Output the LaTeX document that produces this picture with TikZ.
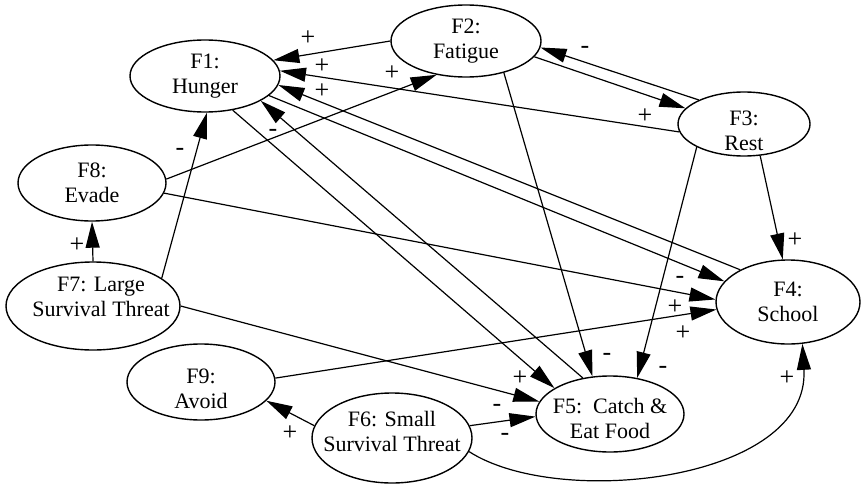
\documentclass[tikz,border=0pt]{standalone}
\usepackage{fontspec}
\setmainfont{Liberation Serif}
\usetikzlibrary{shapes.geometric,arrows.meta}
\begin{document}
\begin{tikzpicture}[x=1pt,y=-1pt,
  factor/.style 2 args={ellipse, draw, line width=1.4pt, inner sep=0pt,
    minimum width=#1pt, minimum height=#2pt},
  ftext/.style={align=center, inner sep=0pt, font=\fontsize{22}{25}\selectfont},
  link/.style={line width=1.2pt, -{Triangle[length=26pt,width=14pt]}},
  sign/.style={inner sep=0pt, font=\fontsize{26}{26}\selectfont}]
\useasboundingbox (0,0) rectangle (864,487);

% factors
\node[factor={150}{72}]  (F1) at (205,76)  {};
\node[factor={150}{72}]  (F2) at (466,41)  {};
\node[factor={132}{64}]  (F3) at (744,124) {};
\node[factor={144}{84}]  (F4) at (788,302) {};
\node[factor={148}{76}]  (F5) at (610,414) {};
\node[factor={160}{90}]  (F6) at (392,438) {};
\node[factor={174}{88}]  (F7) at (93,306)  {};
\node[factor={148}{76}]  (F8) at (92,183)  {};
\node[factor={148}{76}]  (F9) at (201,382) {};

\node[ftext] (F1t) at (F1) {F1:\\Hunger};
\node[ftext] (F2t) at (F2) {F2:\\Fatigue};
\node[ftext] (F3t) at ([yshift=-7pt]F3.center) {F3:\\Rest};
\node[ftext] (F4t) at (F4) {F4:\\School};
\node[ftext] (F5t) at ([yshift=-4pt]F5.center) {F5:\ \ Catch \&\\Eat Food};
\node[ftext] (F6t) at ([yshift=7pt]F6.center) {F6: Small\\Survival Threat};
\node[ftext] (F7t) at ([xshift=8pt,yshift=9pt]F7.center) {F7: Large\\Survival Threat};
\node[ftext] (F8t) at (F8) {F8:\\Evade};
\node[ftext] (F9t) at ([yshift=-7pt]F9.center) {F9:\\Avoid};

% influences
\draw[link] (F2.180) -- (F1.13);
\draw[link] (F3.187) -- (F1.4);
\draw[link] (F4.146) -- (F1.-7);
\draw[link] (F1.-17) -- (F4.162);
\draw[link] (F8.-8)  -- (F4.178);
\draw[link] (F9.3)   -- (F4.186);
\draw[link] (F1.-51) -- (F5.155);
\draw[link] (F5.127) -- (F1.-24);
\draw[link] (F7.0)   -- (F5.170);
\draw[link] (F6.9)   -- (F5.182);
\draw[link] (F2.-40) -- (F5.115);
\draw[link] (F3.206) -- (F5.53);
\draw[link] (F3.-63) -- (F4.97);
\draw[link] (F3.152) -- (F2.-5);
\draw[link] (F2.-13) -- (F3.165);
\draw[link] (F8.3)   -- (F2.229);
\draw[link] (F7.22)  -- (F1.-87);
\draw[link] (F7.90)  -- (F8.270);
\draw[link] (F6.171) -- (F9.-16);
\draw[link] (F6.-10) .. controls +(90,58) and +(8,137) .. (F4.-71);

% signs
\node[sign] (s21) at (308,38)  {+};
\node[sign] (s31) at (322,66)  {+};
\node[sign] (s41) at (322,91)  {+};
\node[sign] (s82) at (392,73)  {+};
\node[sign] (s51) at (273,133) {-};
\node[sign] (s71) at (180,152) {-};
\node[sign] (s32) at (585,50)  {-};
\node[sign] (s23) at (645,116) {+};
\node[sign] (s34) at (795,240) {+};
\node[sign] (s14) at (680,280) {-};
\node[sign] (s84) at (675,307) {+};
\node[sign] (s94) at (683,333) {+};
\node[sign] (s78) at (77,245)  {+};
\node[sign] (s15) at (520,378) {+};
\node[sign] (s75) at (497,408) {-};
\node[sign] (s65) at (505,437) {-};
\node[sign] (s25) at (607,357) {-};
\node[sign] (s35) at (663,370) {-};
\node[sign] (s69) at (290,433) {+};
\node[sign] (s64) at (787,378) {+};
\end{tikzpicture}
\end{document}
